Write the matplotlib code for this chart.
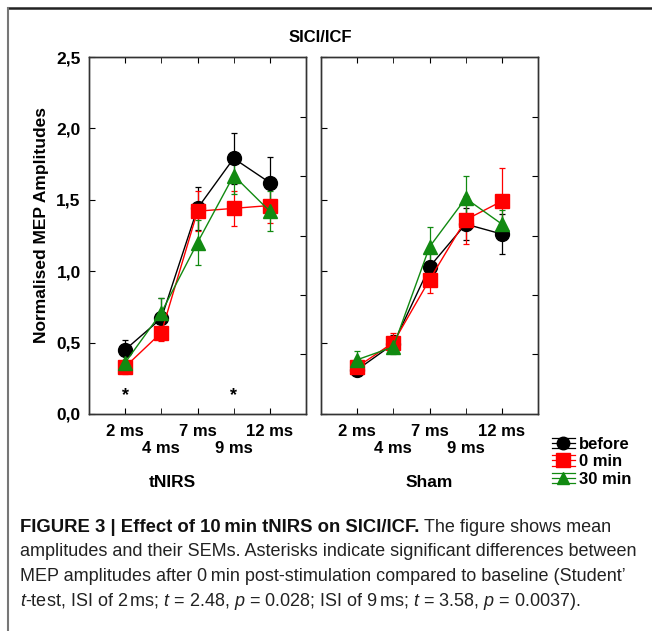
import matplotlib
matplotlib.use('Agg')
import matplotlib.pyplot as plt
from matplotlib.lines import Line2D
import numpy as np

plt.rcParams['font.family'] = ['Liberation Sans', 'DejaVu Sans']
plt.rcParams['mathtext.fontset'] = 'custom'
plt.rcParams['mathtext.rm'] = 'Liberation Sans'
plt.rcParams['mathtext.it'] = 'Liberation Sans:italic'

# ISI categories
isi = ['2 ms', '4 ms', '7 ms', '9 ms', '12 ms']
groups = ['tNIRS', 'Sham']

# normalised MEP amplitudes (mean) and SEM
tnirs_before = [0.45, 0.67, 1.44, 1.79, 1.62]
tnirs_before_err = [0.07, 0.14, 0.15, 0.18, 0.18]
tnirs_0min = [0.33, 0.57, 1.42, 1.44, 1.46]
tnirs_0min_err = [0.05, 0.06, 0.14, 0.12, 0.12]
tnirs_30min = [0.36, 0.71, 1.20, 1.67, 1.42]
tnirs_30min_err = [0.05, 0.10, 0.16, 0.13, 0.14]

sham_before = [0.31, 0.49, 1.03, 1.33, 1.26]
sham_before_err = [0.04, 0.06, 0.10, 0.11, 0.14]
sham_0min = [0.33, 0.50, 0.94, 1.36, 1.49]
sham_0min_err = [0.05, 0.07, 0.09, 0.17, 0.23]
sham_30min = [0.38, 0.47, 1.17, 1.51, 1.33]
sham_30min_err = [0.06, 0.05, 0.14, 0.16, 0.10]

# significant ISIs (asterisks in tNIRS panel)
star_isi = ['2 ms', '9 ms']
star_y = 0.13

right_ticks = [0.42, 0.83, 1.25, 1.67, 2.08]

series_style = [
    ('before', 'black', 'o', 10),
    ('0 min', '#ff0000', 's', 10.5),
    ('30 min', '#118a11', '^', 10),
]


# legend key in the Statistica style: marker with three horizontal bars
class LegendKey:
    def __init__(self, color, marker, size):
        self.color, self.marker, self.size = color, marker, size


class LegendKeyHandler:
    def legend_artist(self, legend, orig_handle, fontsize, handlebox):
        x0, y0 = handlebox.xdescent, handlebox.ydescent
        w, h = handlebox.width, handlebox.height
        yc = y0 + h / 2
        arts = []
        for dy in (-0.45 * h, 0, 0.45 * h):
            arts.append(Line2D([x0, x0 + w], [yc + dy, yc + dy], color=orig_handle.color,
                               linewidth=0.9))
        arts.append(Line2D([x0 + w / 2], [yc], marker=orig_handle.marker, color=orig_handle.color,
                           markersize=orig_handle.size * 0.9, linestyle='none'))
        for a in arts:
            a.set_transform(handlebox.get_transform())
            handlebox.add_artist(a)
        return arts[-1]


fig = plt.figure(figsize=(6.52, 6.31), dpi=100)

x = np.arange(1, len(isi) + 1)

panel_data = [
    [(tnirs_before, tnirs_before_err), (tnirs_0min, tnirs_0min_err), (tnirs_30min, tnirs_30min_err)],
    [(sham_before, sham_before_err), (sham_0min, sham_0min_err), (sham_30min, sham_30min_err)],
]
lefts = [89 / 652, 321 / 652]
axes = []
for p in range(2):
    ax = fig.add_axes([lefts[p], 1 - 414 / 631, 217 / 652, 357 / 631])
    axes.append(ax)
    for (name, col, mk, ms), (vals, errs) in zip(series_style, panel_data[p]):
        ax.errorbar(x, vals, yerr=errs, color=col, marker=mk, markersize=ms,
                    linewidth=1.0, elinewidth=0.9, capsize=2.2, capthick=0.9,
                    label=name, zorder=3)
    ax.set_xlim(0, 6)
    ax.set_ylim(0, 2.5)
    # staggered category labels: upper row on major ticks, lower row on minor ticks
    ax.set_xticks(x[::2])
    ax.set_xticklabels(isi[::2], fontsize=12, fontweight='bold')
    ax.set_xticks(x[1::2], minor=True)
    ax.set_xticklabels(isi[1::2], minor=True, fontsize=12, fontweight='bold')
    ax.tick_params(axis='x', which='major', direction='in', top=True, length=4, pad=7)
    ax.tick_params(axis='x', which='minor', direction='in', top=True, length=4, pad=19.5)
    ax.set_yticks(np.arange(0, 2.51, 0.5))
    if p == 0:
        ax.set_yticklabels([f'{v:.1f}'.replace('.', ',') for v in np.arange(0, 2.51, 0.5)],
                           fontsize=12.5, fontweight='bold')
    else:
        ax.set_yticklabels([])
    ax.tick_params(axis='y', direction='in', length=4, pad=6)
    ax2 = ax.twinx()
    ax2.set_ylim(0, 2.5)
    ax2.set_yticks(right_ticks)
    ax2.set_yticklabels([])
    ax2.tick_params(axis='y', direction='in', length=4)
    for a in (ax, ax2):
        for s in a.spines.values():
            s.set_color('#333333')
            s.set_linewidth(1.0)
    ax.text(3 if p == 1 else 2.3, -0.48, groups[p], ha='center', va='center',
            fontsize=12.5, fontweight='bold', transform=ax.transData, clip_on=False)

for s in star_isi:
    axes[0].text(isi.index(s) + 1, star_y, '*', ha='center', va='center',
                 fontsize=13, fontweight='bold')

fig.text(320 / 652, 1 - 37 / 631, 'SICI/ICF', ha='center', va='center',
         fontsize=12, fontweight='bold')
fig.text(42 / 652, 1 - 225 / 631, 'Normalised MEP Amplitudes', rotation=90,
         ha='center', va='center', fontsize=12.5, fontweight='bold')

keys = [LegendKey(col, mk, ms) for name, col, mk, ms in series_style]
fig.legend(keys, [s[0] for s in series_style], handler_map={LegendKey: LegendKeyHandler()},
           loc='upper left', bbox_to_anchor=(540 / 652, 1 - 425 / 631),
           frameon=False, prop={'size': 12, 'weight': 'bold'}, handlelength=1.4,
           handletextpad=0.25, labelspacing=0.15, borderpad=0.2)

# outer frame (top and left)
fig.add_artist(Line2D([8 / 652, 1], [1 - 8 / 631, 1 - 8 / 631], color='#222222', linewidth=1.8))
fig.add_artist(Line2D([8 / 652, 8 / 652], [0, 1 - 8 / 631], color='#777777', linewidth=1.5))

# caption
x0 = 20 / 652
renderer = fig.canvas.get_renderer()
t_bold = fig.text(x0, 1 - 527 / 631, 'FIGURE 3 | Effect of 10\u2009min tNIRS on SICI/ICF.',
                  fontsize=13.3, fontweight='bold', va='center', color='#111111')
bb = t_bold.get_window_extent(renderer)
fig.text((bb.x1 + 5) / fig.bbox.width, 1 - 527 / 631, 'The figure shows mean',
         fontsize=13, va='center', color='#222222')
cap_lines = [
    'amplitudes and their SEMs. Asterisks indicate significant differences between',
    'MEP amplitudes after 0\u2009min post-stimulation compared to baseline (Student\u2019',
    r'$t$-test, ISI of 2$\,$ms; $t$ = 2.48, $p$ = 0.028; ISI of 9$\,$ms; $t$ = 3.58, $p$ = 0.0037).',
]
for i, line in enumerate(cap_lines):
    fig.text(x0, 1 - (552 + 24.5 * i) / 631, line, fontsize=13, va='center', color='#222222')

fig.savefig('out.png', dpi=100)
